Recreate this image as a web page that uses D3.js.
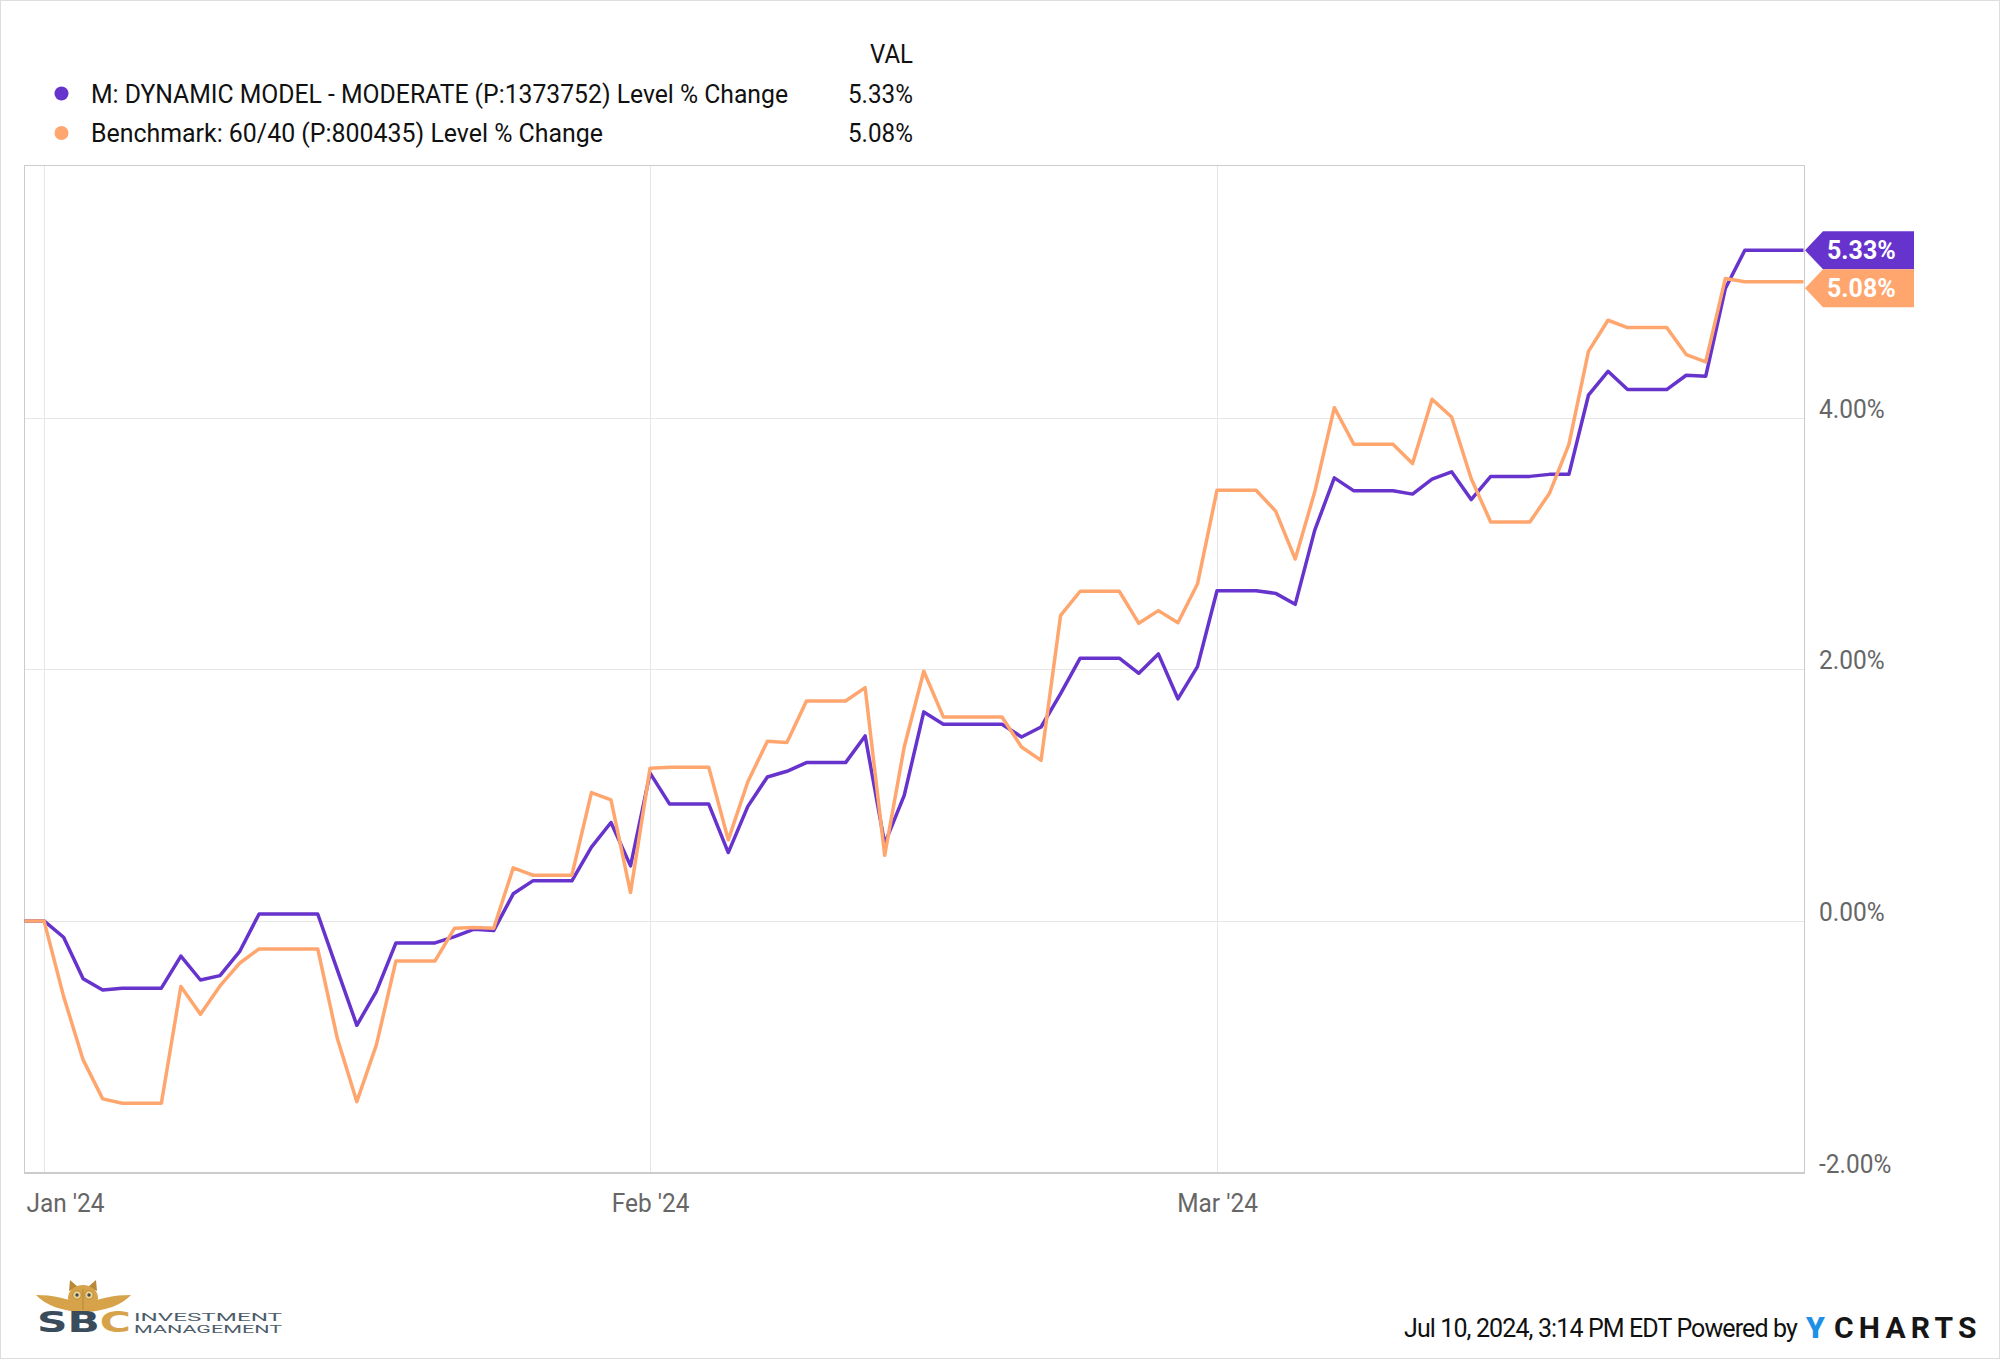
<!DOCTYPE html>
<html><head><meta charset="utf-8">
<script src="https://cdn.jsdelivr.net/npm/d3@7"></script>
<style>html,body{margin:0;padding:0;background:#fff;} svg{display:block;font-family:Roboto,"Noto Sans",sans-serif;}</style>
</head><body>
<svg id="chart" width="2000" height="1359"></svg>
<script>
// ---------- data ----------
const startDate = "2023-12-31";
const endDate = "2024-03-31";
const seriesNames = ["M: DYNAMIC MODEL - MODERATE (P:1373752) Level % Change", "Benchmark: 60/40 (P:800435) Level % Change"];
const seriesColors = ["#6633CC", "#FFA66F"];
const lastValueLabels = ["5.33%", "5.08%"];
const legendHeader = "VAL";
// daily values, one per calendar day from Dec 31 2023 to Mar 31 2024 (weekly rows, Sun..Sat)
const modelValues = [
  0, 0, -0.13, -0.46, -0.55, -0.535, -0.535,
  -0.535, -0.28, -0.47, -0.435, -0.245, 0.055, 0.055,
  0.055, 0.055, -0.39, -0.83, -0.56, -0.175, -0.175,
  -0.175, -0.125, -0.066, -0.077, 0.215, 0.318, 0.318,
  0.318, 0.586, 0.782, 0.437, 1.174, 0.928, 0.928,
  0.928, 0.543, 0.91, 1.144, 1.189, 1.258, 1.258,
  1.258, 1.47, 0.614, 0.998, 1.661, 1.563, 1.563,
  1.563, 1.563, 1.462, 1.541, 1.806, 2.088, 2.088,
  2.088, 1.968, 2.122, 1.765, 2.021, 2.624, 2.624,
  2.624, 2.603, 2.516, 3.106, 3.521, 3.418, 3.418,
  3.418, 3.392, 3.511, 3.569, 3.349, 3.533, 3.533,
  3.533, 3.549, 3.549, 4.178, 4.368, 4.223, 4.223,
  4.223, 4.337, 4.329, 5.026, 5.33, 5.33, 5.33,
  5.33
];
const benchValues = [
  0, 0, -0.60, -1.105, -1.415, -1.45, -1.45,
  -1.45, -0.522, -0.742, -0.517, -0.337, -0.223, -0.223,
  -0.223, -0.223, -0.933, -1.437, -0.986, -0.318, -0.318,
  -0.318, -0.058, -0.053, -0.058, 0.421, 0.363, 0.363,
  0.363, 1.02, 0.962, 0.225, 1.214, 1.222, 1.222,
  1.222, 0.644, 1.106, 1.427, 1.417, 1.748, 1.748,
  1.748, 1.854, 0.521, 1.382, 1.984, 1.621, 1.621,
  1.621, 1.621, 1.382, 1.276, 2.429, 2.62, 2.62,
  2.62, 2.365, 2.466, 2.37, 2.677, 3.423, 3.423,
  3.423, 3.257, 2.876, 3.41, 4.079, 3.788, 3.788,
  3.788, 3.635, 4.146, 4.005, 3.516, 3.17, 3.17,
  3.17, 3.396, 3.788, 4.527, 4.774, 4.716, 4.716,
  4.716, 4.501, 4.443, 5.105, 5.08, 5.08, 5.08,
  5.08
];
const yTickValues = [-2, 0, 2, 4];
const yGridValues = [0, 2, 4];
const xTickDates = ["2024-01-01", "2024-02-01", "2024-03-01"];
const footerText = "Jul 10, 2024, 3:14 PM EDT Powered by";

// ---------- setup ----------
const parse = d3.timeParse("%Y-%m-%d");
const t0 = parse(startDate), t1 = parse(endDate);
const dates = d3.timeDay.range(t0, d3.timeDay.offset(t1, 1));
const series = [modelValues, benchValues].map((vals, i) => ({
  name: seriesNames[i], color: seriesColors[i], label: lastValueLabels[i],
  points: vals.map((v, j) => ({date: dates[j], value: v}))
}));

const svg = d3.select("#chart");
const plotL = 24, plotR = 1804, plotT = 165, plotB = 1173;
const x = d3.scaleTime().domain([t0, t1]).range([24.5, 1803.5]);
const y = d3.scaleLinear().domain([-2, 6]).range([1172.5, 166]);
const FS = 0.94;
function squeeze(sel, f) {
  sel.each(function () {
    const w = this.getComputedTextLength();
    d3.select(this).attr("textLength", (w * f).toFixed(1)).attr("lengthAdjust", "spacingAndGlyphs");
  });
}
const pct = d => d3.format(".2f")(d).replace("\u2212", "-") + "%";

// outer frame
svg.append("rect").attr("x", 0.5).attr("y", 0.5).attr("width", 1999).attr("height", 1358)
  .attr("fill", "#fff").attr("stroke", "#dddddd");

// grid
const grid = svg.append("g");
grid.selectAll("line.h").data(yGridValues).join("line")
  .attr("x1", plotL).attr("x2", plotR)
  .attr("y1", d => Math.round(y(d)) + 0.5).attr("y2", d => Math.round(y(d)) + 0.5)
  .attr("stroke", "#e6e6e6").attr("stroke-width", 1);
grid.selectAll("line.v").data(xTickDates.map(parse)).join("line")
  .attr("x1", d => Math.round(x(d)) + 0.5).attr("x2", d => Math.round(x(d)) + 0.5)
  .attr("y1", plotT).attr("y2", plotB)
  .attr("stroke", "#e6e6e6").attr("stroke-width", 1);

// plot border
svg.append("rect").attr("x", plotL + 0.5).attr("y", plotT + 0.5)
  .attr("width", plotR - plotL).attr("height", plotB - plotT)
  .attr("fill", "none").attr("stroke", "#cccccc");
svg.append("line").attr("x1", plotL).attr("x2", plotR).attr("y1", plotB).attr("y2", plotB)
  .attr("stroke", "#cccccc").attr("stroke-width", 2);

// lines
const line = d3.line().x(d => x(d.date)).y(d => y(d.value));
svg.append("g").selectAll("path").data(series).join("path")
  .attr("d", d => line(d.points)).attr("fill", "none")
  .attr("stroke", d => d.color).attr("stroke-width", 3.5)
  .attr("stroke-linejoin", "round").attr("stroke-linecap", "butt");

// y axis (right)
const yAxis = svg.append("g").attr("transform", "translate(1819,0)")
  .call(d3.axisRight(y).tickValues(yTickValues).tickSize(0).tickPadding(0).tickFormat(pct));
yAxis.select(".domain").remove();
yAxis.selectAll("text").attr("x", 0).attr("dy", "-0.5")
  .attr("font-size", 26).attr("font-family", "Roboto").attr("fill", "#666666");
squeeze(yAxis.selectAll("text"), FS);

// x axis (bottom)
const xAxis = svg.append("g").attr("transform", "translate(0,1212)")
  .call(d3.axisBottom(x).tickValues(xTickDates.map(parse)).tickSize(0)
    .tickFormat(d3.timeFormat("%b '%y")));
xAxis.select(".domain").remove();
xAxis.selectAll("text").attr("y", 0).attr("dy", 0)
  .attr("font-size", 26).attr("font-family", "Roboto").attr("fill", "#666666");
xAxis.selectAll(".tick").filter((d, i) => i === 0).select("text")
  .attr("text-anchor", "start").attr("x", 26 - x(parse(xTickDates[0])));
squeeze(xAxis.selectAll("text"), FS);

// last value flags
let prevBottom = -Infinity;
const flagH = 38;
series.forEach(s => {
  let c = y(s.points[s.points.length - 1].value);
  if (c - flagH / 2 < prevBottom) c = prevBottom + flagH / 2;
  prevBottom = c + flagH / 2;
  const g = svg.append("g");
  g.append("path")
    .attr("d", `M1805,${c} L1823,${c - flagH / 2} L1914,${c - flagH / 2} L1914,${c + flagH / 2} L1823,${c + flagH / 2} Z`)
    .attr("fill", s.color);
  g.append("text").attr("x", 1827).attr("y", c + 8.5)
    .attr("font-size", 25).attr("font-weight", "bold").attr("fill", "#ffffff")
    .text(s.label);
});

// legend
const legendNameWidths = [697, 512];
const legend = svg.append("g");
legend.append("text").attr("x", 913).attr("y", 63).attr("text-anchor", "end")
  .attr("font-size", 26).attr("fill", "#111")
  .attr("textLength", 43).attr("lengthAdjust", "spacingAndGlyphs").text(legendHeader);
series.forEach((s, i) => {
  const by = 102.5 + i * 39.5;
  legend.append("circle").attr("cx", 61.5).attr("cy", by - 9).attr("r", 7).attr("fill", s.color);
  legend.append("text").attr("x", 91).attr("y", by).attr("font-size", 26).attr("fill", "#111")
    .attr("textLength", legendNameWidths[i]).attr("lengthAdjust", "spacingAndGlyphs").text(s.name);
  legend.append("text").attr("x", 913).attr("y", by).attr("text-anchor", "end")
    .attr("font-size", 26).attr("fill", "#111")
    .attr("textLength", 65).attr("lengthAdjust", "spacingAndGlyphs").text(s.label);
});

// footer: one text element holding the timestamp and the YCHARTS mark
const footerW = 393, footerX0 = 1404;
const probe = svg.append("text").attr("font-size", 25).text(footerText);
const natW = probe.node().getComputedTextLength();
probe.remove();
const ls = (footerW - natW) / footerText.length;
const ft = svg.append("text").attr("x", footerX0).attr("y", 1337);
ft.append("tspan").attr("font-size", 25).attr("fill", "#111").attr("letter-spacing", ls.toFixed(2)).text(footerText);
ft.append("tspan").attr("x", 1806).attr("y", 1338).attr("font-size", 30).attr("font-weight", "900")
  .attr("letter-spacing", 0).attr("fill", "#1E90E6").text("Y");
ft.append("tspan").attr("x", 1834).attr("y", 1338).attr("font-size", 30).attr("font-weight", "bold")
  .attr("fill", "#161616").attr("letter-spacing", 5.2).text("CHARTS");

// SBC logo
const logo = svg.append("g");
const gold = "#D6A24A", goldD = "#B98838", slate = "#3A4C5C";
logo.append("path").attr("d", "M83,1307 C70,1298 52,1295 36,1295 C45,1305 62,1311 80,1312 Z").attr("fill", gold);
logo.append("path").attr("d", "M83,1307 C96,1298 114,1295 131,1295 C122,1305 105,1311 86,1312 Z").attr("fill", gold);
logo.append("path").attr("d", "M69,1291 L70,1280 L78,1287 Z M97,1291 L96,1280 L88,1287 Z").attr("fill", goldD);
logo.append("ellipse").attr("cx", 83).attr("cy", 1298).attr("rx", 15).attr("ry", 13).attr("fill", gold);
logo.append("path").attr("d", "M83,1289 L83,1310").attr("stroke", goldD).attr("stroke-width", 1);
[77, 89].forEach(cx => {
  logo.append("circle").attr("cx", cx).attr("cy", 1295).attr("r", 4.2).attr("fill", "#F0D38C").attr("stroke", goldD);
  logo.append("circle").attr("cx", cx).attr("cy", 1295).attr("r", 1.7).attr("fill", slate);
});
const sbc = logo.append("text").attr("x", 37).attr("y", 1332).attr("font-size", 28)
  .attr("font-weight", "bold").attr("font-family", "DejaVu Sans")
  .attr("textLength", 94).attr("lengthAdjust", "spacingAndGlyphs");
sbc.append("tspan").attr("fill", slate).text("SB");
sbc.append("tspan").attr("fill", gold).text("C");
logo.append("text").attr("x", 134).attr("y", 1320.5).attr("font-size", 11.5).attr("fill", "#4D5D6B")
  .attr("textLength", 148).attr("lengthAdjust", "spacingAndGlyphs").text("INVESTMENT");
logo.append("text").attr("x", 134).attr("y", 1332.5).attr("font-size", 11.5).attr("fill", "#4D5D6B")
  .attr("textLength", 148).attr("lengthAdjust", "spacingAndGlyphs").text("MANAGEMENT");
</script>
</body></html>
